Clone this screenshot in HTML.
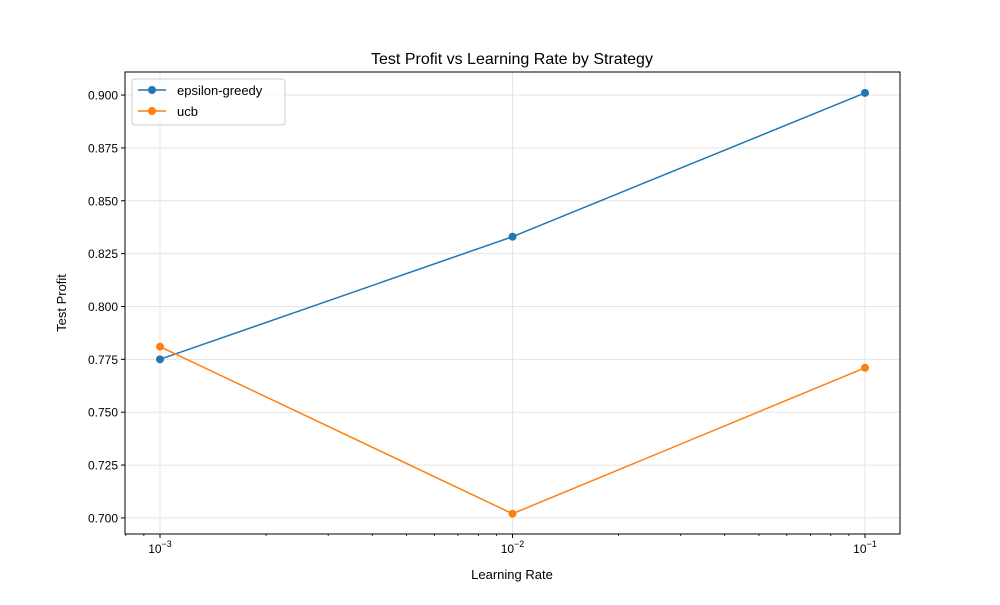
<!DOCTYPE html>
<html><head><meta charset="utf-8"><style>
body{margin:0;background:#fff;}
svg{font-family:"Liberation Sans","DejaVu Sans",sans-serif;}
</style></head><body>
<svg id="chart" width="1000" height="600" xmlns="http://www.w3.org/2000/svg">
<rect width="1000" height="600" fill="#fff"/>
<text x="512" y="64" font-size="16" text-anchor="middle">Test Profit vs Learning Rate by Strategy</text>
<text x="512" y="579" font-size="13" text-anchor="middle">Learning Rate</text>
<text transform="translate(66,303) rotate(-90)" font-size="13" text-anchor="middle">Test Profit</text>
<g id="grid"></g><g id="axes"></g><g id="series"></g>
<rect x="125" y="72" width="775" height="462" fill="none" stroke="#000" stroke-width="1"/>
<g>
<rect x="132" y="79" width="153" height="46" rx="3" fill="#fff" fill-opacity="0.8" stroke="#ccc"/>
<g><line x1="138" y1="90" x2="166" y2="90" stroke="#1f77b4" stroke-width="1.5"/><circle cx="152" cy="90" r="4" fill="#1f77b4"/><text x="177" y="95" font-size="13">epsilon-greedy</text></g>
<g><line x1="138" y1="111" x2="166" y2="111" stroke="#ff7f0e" stroke-width="1.5"/><circle cx="152" cy="111" r="4" fill="#ff7f0e"/><text x="177" y="116" font-size="13">ucb</text></g>
</g>
</svg>
<script>
const learningRates=[0.001,0.01,0.1];
const epsilonGreedy=[0.775,0.833,0.901];
const ucb=[0.781,0.702,0.771];
const yTicks=[0.700,0.725,0.750,0.775,0.800,0.825,0.850,0.875,0.900];
const xTickExps=[-3,-2,-1];
const NS="http://www.w3.org/2000/svg";
const X0=125,X1=900,Y0=534,Y1=72,LX0=-3.0993,LX1=-0.9007,YMIN=0.6924,YMAX=0.9109;
function xs(v){return X0+(Math.log10(v)-LX0)/(LX1-LX0)*(X1-X0);}
function ys(v){return Y0-(v-YMIN)/(YMAX-YMIN)*(Y0-Y1);}
function mk(tag,attrs,parent){const e=document.createElementNS(NS,tag);for(const k in attrs)e.setAttribute(k,attrs[k]);parent.appendChild(e);return e;}
const grid=document.getElementById('grid'),axes=document.getElementById('axes'),series=document.getElementById('series');
yTicks.forEach(t=>{const y=ys(t);
 const g=mk('line',{x1:X0,x2:X1,y1:y,y2:y,stroke:'#e5e5e5','stroke-width':1},grid);
 
 
 mk('line',{x1:X0-4,x2:X0,y1:y,y2:y,stroke:'#000'},axes);
 const tx=mk('text',{x:X0-7,y:y+4.5,'font-size':12,'text-anchor':'end'},axes);tx.textContent=t.toFixed(3);
 
 
});
xTickExps.forEach(e=>{const x=xs(Math.pow(10,e));
 const g=mk('line',{x1:x,x2:x,y1:Y0,y2:Y1,stroke:'#e5e5e5','stroke-width':1},grid);
 
 
 mk('line',{x1:x,x2:x,y1:Y0,y2:Y0+4,stroke:'#000'},axes);
 const tx=mk('text',{x:x,y:Y0+19,'font-size':12,'text-anchor':'middle'},axes);
 tx.innerHTML='10<tspan dy="-6" font-size="9">\u2212'+(-e)+'</tspan>';
 
 
});
for(let d=-4;d<=-1;d++)for(let m=2;m<=9;m++){const v=m*Math.pow(10,d);const lx=Math.log10(v);if(lx<LX0||lx>LX1)continue;const x=xs(v);mk('line',{x1:x,x2:x,y1:Y0,y2:Y0+2,stroke:'#000','stroke-width':0.8},axes);}
function draw(vals,color,name){
 const pts=learningRates.map((r,i)=>xs(r)+','+ys(vals[i])).join(' ');
 const pl=mk('polyline',{points:pts,fill:'none',stroke:color,'stroke-width':1.5},series);
 
 
 learningRates.forEach((r,i)=>{const c=mk('circle',{cx:xs(r),cy:ys(vals[i]),r:4,fill:color},series);
  
  });
}
draw(epsilonGreedy,'#1f77b4','epsilon-greedy');
draw(ucb,'#ff7f0e','ucb');
</script>
</body></html>
